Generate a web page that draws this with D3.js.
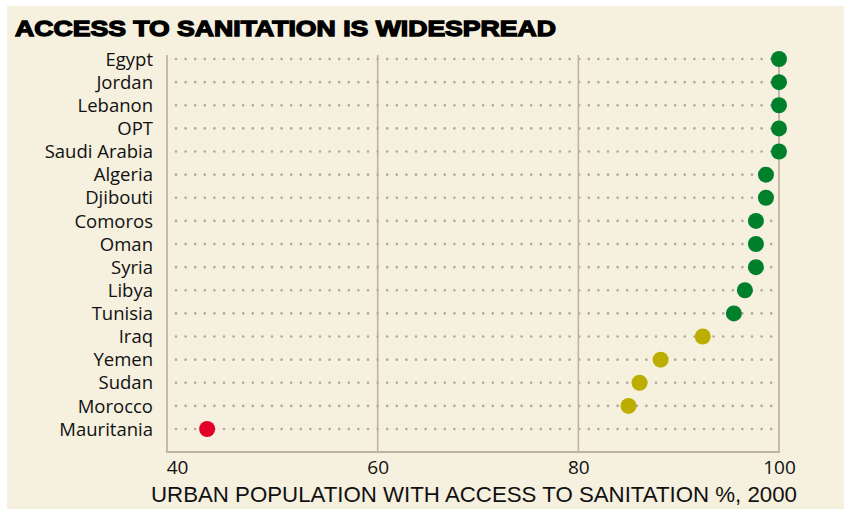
<!DOCTYPE html>
<html>
<head>
<meta charset="utf-8">
<script src="https://cdn.jsdelivr.net/npm/d3@7"></script>
<style>
  html, body { margin: 0; padding: 0; background: #ffffff; }
  svg { display: block; }
</style>
</head>
<body>
<svg id="chart" width="844" height="509"></svg>
<script>
const countries = ["Egypt","Jordan","Lebanon","OPT","Saudi Arabia","Algeria","Djibouti","Comoros","Oman","Syria","Libya","Tunisia","Iraq","Yemen","Sudan","Morocco","Mauritania"];
const values = [100,100,100,100,100,98.7,98.7,97.7,97.7,97.7,96.6,95.5,92.4,88.2,86.1,85.0,43.0];
const tickValues = [40,60,80,100];
const gridValues = [60,80];
const titleText = "ACCESS TO SANITATION IS WIDESPREAD";
const axisTitle = "URBAN POPULATION WITH ACCESS TO SANITATION %, 2000";

const data = countries.map((c, i) => ({country: c, value: values[i]}));

const svg = d3.select("#chart");
const W = 844, H = 509;

svg.append("rect").attr("x", 7).attr("y", 6).attr("width", W - 7).attr("height", H - 6).attr("fill", "#f6f0df");

const x = d3.scaleLinear().domain([39, 100]).range([167, 779]);
const y = d3.scalePoint().domain(countries).range([59, 429]);
const plotTop = 55, plotBottom = 452;
const frameColor = "#bfb3a3";

const color = d3.scaleThreshold().domain([60, 95]).range(["#e2002a", "#bcae00", "#00802b"]);

// title
svg.append("text")
  .attr("x", 15).attr("y", 36)
  .attr("font-family", "'Liberation Sans', Arial, sans-serif")
  .attr("font-weight", "bold")
  .attr("font-size", 22)
  .attr("fill", "#000")
  .attr("stroke", "#000").attr("stroke-width", 1.3)
  .attr("textLength", 541).attr("lengthAdjust", "spacingAndGlyphs")
  .text(titleText);

// dotted row lines
svg.append("g").selectAll("line").data(data).join("line")
  .attr("x1", x(39) + 9).attr("x2", x(100) - 2)
  .attr("y1", d => y(d.country)).attr("y2", d => y(d.country))
  .attr("stroke", "#b3a798").attr("stroke-width", 2.6)
  .attr("stroke-linecap", "round")
  .attr("stroke-dasharray", "0 9.6");

// gridlines
svg.append("g").selectAll("line").data(gridValues).join("line")
  .attr("x1", d => x(d)).attr("x2", d => x(d))
  .attr("y1", plotTop).attr("y2", plotBottom)
  .attr("stroke", frameColor).attr("stroke-width", 1.6);

// frame (left, bottom, right)
svg.append("path")
  .attr("d", `M${x(39)},${plotTop}V${plotBottom}H${x(100)}V${plotTop}`)
  .attr("fill", "none").attr("stroke", frameColor).attr("stroke-width", 1.8);

// category labels
svg.append("g").selectAll("text").data(data).join("text")
  .attr("x", 153).attr("y", d => y(d.country))
  .attr("dy", "0.36em")
  .attr("text-anchor", "end")
  .attr("font-family", "'Open Sans', sans-serif")
  .attr("font-size", 18.5)
  .attr("fill", "#111")
  .attr("textLength", d => d.country.length ? null : null)
  .text(d => d.country);

// x axis tick labels
const xAxis = d3.axisBottom(x).tickValues(tickValues).tickSize(0).tickPadding(0);
const ax = svg.append("g").attr("transform", `translate(0,${plotBottom})`).call(xAxis);
ax.select(".domain").remove();
ax.selectAll("text")
  .attr("y", 22).attr("dy", "0")
  .attr("font-family", "'Open Sans', sans-serif")
  .attr("font-size", 19)
  .attr("fill", "#111");

// axis title
svg.append("text")
  .attr("x", 151).attr("y", 502)
  .attr("font-family", "'Liberation Sans Narrow', 'Liberation Sans', Arial, sans-serif")
  .attr("font-size", 22.5)
  .attr("fill", "#111")
  .attr("textLength", 646).attr("lengthAdjust", "spacingAndGlyphs")
  .text(axisTitle);

// dots
svg.append("g").selectAll("circle").data(data).join("circle")
  .attr("cx", d => x(d.value)).attr("cy", d => y(d.country))
  .attr("r", 8)
  .attr("fill", d => color(d.value));
</script>
</body>
</html>
